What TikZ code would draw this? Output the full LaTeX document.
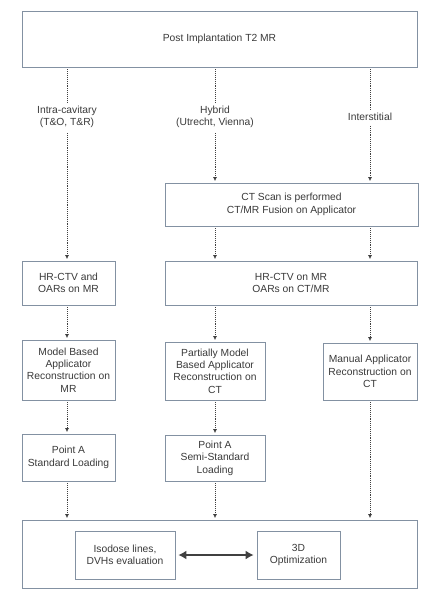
\documentclass[tikz,border=0pt]{standalone}
\usepackage{fontspec}
\setmainfont{Liberation Sans}
\usetikzlibrary{arrows.meta, positioning}
\definecolor{boxline}{HTML}{8391A2}
\definecolor{txt}{HTML}{3A3A3A}
\definecolor{arr}{HTML}{404040}
\tikzset{
  flowbox/.style={draw=boxline, line width=0.7pt, fill=white, align=center, inner sep=0pt, text=txt},
  branchlab/.style={align=center, inner sep=3pt, text=txt},
  dotline/.style={densely dotted, line width=0.9pt, draw=arr},
  dotarrow/.style={dotline, -{Latex[length=4pt,width=4pt]}, shorten >=1.5pt, shorten <=2pt},
}
\begin{document}
\begin{tikzpicture}[x=1pt, y=-1pt, font=\fontsize{10.3}{12.4}\selectfont]
\useasboundingbox (0,0) rectangle (428,600);

\node[flowbox, minimum width=395pt, minimum height=56pt] (top) at (219.5,39) {Post Implantation T2 MR};

\node[branchlab] (intra) at (67,117) {Intra-cavitary\\(T\&O, T\&R)};
\node[branchlab] (hybrid) at (215,117) {Hybrid\\(Utrecht, Vienna)};
\node[branchlab] (inter) at (370,117) {Interstitial};

\node[flowbox, minimum width=253pt, minimum height=43pt] (ctscan) at (291.5,204.5) {CT Scan is performed\\CT/MR Fusion on Applicator};

\node[flowbox, minimum width=93pt, minimum height=44pt] (hrleft) at (68.5,283) {HR-CTV and\\OARs on MR};
\node[flowbox, minimum width=252pt, minimum height=44pt] (hrmid) at (291,283) {HR-CTV on MR\\OARs on CT/MR};

\node[flowbox, minimum width=93pt, minimum height=60pt] (recleft) at (68.5,370) {Model Based\\Applicator\\Reconstruction on\\MR};
\node[flowbox, minimum width=100pt, minimum height=58pt] (recmid) at (215,371) {Partially Model\\Based Applicator\\Reconstruction on\\CT};
\node[flowbox, minimum width=94pt, minimum height=57pt] (recright) at (370,371.5) {Manual Applicator\\Reconstruction on\\CT};

\node[flowbox, minimum width=93pt, minimum height=47pt] (ptleft) at (68.5,457.5) {Point A\\Standard Loading};
\node[flowbox, minimum width=100pt, minimum height=46pt] (ptmid) at (215,458) {Point A\\Semi-Standard\\Loading};

\node[flowbox, minimum width=395pt, minimum height=68pt] (plan) at (219.5,554) {};
\node[flowbox, minimum width=100pt, minimum height=48pt] (isodose) at (125,555) {Isodose lines,\\DVHs evaluation};
\node[flowbox, minimum width=83pt, minimum height=48pt] (optim) at (298.5,555) {3D\\Optimization};

\foreach \lab in {intra,hybrid,inter}{
    \draw[dotline, shorten <=2pt] (top.south -| \lab) -- (\lab.north);
}

\foreach \from/\col/\to in {intra/intra/hrleft, hybrid/hybrid/ctscan, inter/inter/ctscan,
    ctscan/hybrid/hrmid, ctscan/inter/hrmid, hrleft/intra/recleft, hrmid/hybrid/recmid,
    hrmid/inter/recright, recleft/intra/ptleft, recmid/hybrid/ptmid,
    ptleft/intra/plan, ptmid/hybrid/plan, recright/inter/plan}{
    \draw[dotarrow] (\from.south -| \col) -- (\to.north -| \col);
}

\draw[draw=arr, line width=1.6pt, {Latex[length=8pt,width=9pt]}-{Latex[length=8pt,width=9pt]}, shorten <=3pt, shorten >=3pt] (isodose.east) -- (optim.west);

\end{tikzpicture}
\end{document}
